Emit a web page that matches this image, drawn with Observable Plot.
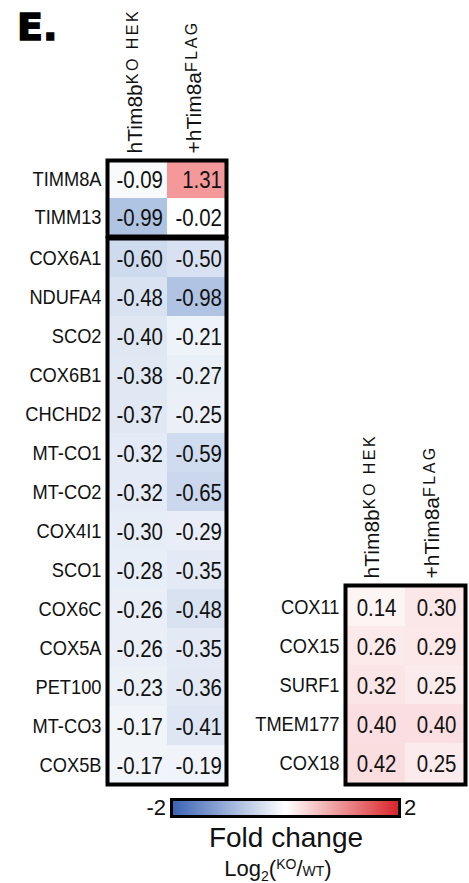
<!DOCTYPE html>
<html><head><meta charset="utf-8">
<script src="https://cdn.jsdelivr.net/npm/d3@7"></script>
<script src="https://cdn.jsdelivr.net/npm/@observablehq/plot@0.6"></script>
<style>
body{margin:0;background:#fff;font-family:"Liberation Sans",Arial,sans-serif;color:#111;}
#wrap{position:relative;width:469px;height:883px;overflow:hidden;}
.abs{position:absolute;}
.abs svg{overflow:visible;}
</style></head><body><div id="wrap"></div>
<script>
// ---- data ----
const columns = ["hTim8b", "+hTim8a"];
const columnSup = ["KO HEK", "FLAG"];
const genesA = ["TIMM8A", "TIMM13"];
const koA = [-0.09, -0.99];
const flagA = [1.31, -0.02];
const genesB = ["COX6A1","NDUFA4","SCO2","COX6B1","CHCHD2","MT-CO1","MT-CO2","COX4I1","SCO1","COX6C","COX5A","PET100","MT-CO3","COX5B"];
const koB = [-0.60,-0.48,-0.40,-0.38,-0.37,-0.32,-0.32,-0.30,-0.28,-0.26,-0.26,-0.23,-0.17,-0.17];
const flagB = [-0.50,-0.98,-0.21,-0.27,-0.25,-0.59,-0.65,-0.29,-0.35,-0.48,-0.35,-0.36,-0.41,-0.19];
const genesC = ["COX11","COX15","SURF1","TMEM177","COX18"];
const koC = [0.14, 0.26, 0.32, 0.40, 0.42];
const flagC = [0.30, 0.29, 0.25, 0.40, 0.25];
const legendTicks = [-2, 2];
const legendTitle = "Fold change";

// ---- styling ----
const FONT = '"Liberation Sans", Arial, sans-serif';
const SQUEEZE = 0.87; // the source figure's text is horizontally condensed
const colorScale = {type: "linear", domain: [-2, -1, 0, 0.5, 1.3, 2],
  range: ["#3c64b6", "#aec2e2", "#ffffff", "#f9d6d9", "#f59a9c", "#d8262a"], clamp: true};
const legendColors = ["#3c64b6", "#ffffff", "#d8262a"];

const wrap = document.getElementById("wrap");
function place(node, left, top) {
  const d = document.createElement("div");
  d.className = "abs"; d.style.left = left + "px"; d.style.top = top + "px";
  d.appendChild(node); wrap.appendChild(d);
  // condense the row labels and cell values (not the rotated headers)
  node.querySelectorAll("text").forEach(t => {
    if (t.getAttribute("data-header")) return;
    const len = t.getComputedTextLength();
    if (len > 0) {
      t.setAttribute("textLength", (len * SQUEEZE).toFixed(2));
      t.setAttribute("lengthAdjust", "spacingAndGlyphs");
    }
  });
  return d;
}

function heatmap({genes, ko, flag, width, height, mLeft, mRight, mTop, mBottom, header, valueDx}) {
  const data = genes.flatMap((g, i) => [
    {gene: g, col: columns[0], v: ko[i]},
    {gene: g, col: columns[1], v: flag[i]}
  ]);
  const marks = [
    Plot.cell(data, {x: "col", y: "gene", fill: "v"}),
    Plot.text(data, {x: "col", y: "gene", text: d => d.v.toFixed(2), textAnchor: "end",
      dx: valueDx, dy: 1, fontSize: 23.5, fill: "#111"}),
    Plot.frame({stroke: "#000", strokeWidth: 4})
  ];
  if (header) marks.push(Plot.text(columns, {x: d => d, frameAnchor: "top", rotate: -90,
    textAnchor: "start", dy: -7, dx: -11, fontSize: 21, fill: "#111"}));
  const svg = Plot.plot({
    width, height, marginLeft: mLeft, marginRight: mRight, marginTop: mTop, marginBottom: mBottom,
    x: {domain: columns, padding: 0, axis: null},
    y: {domain: genes, padding: 0, tickSize: 0, tickPadding: 6, label: null},
    color: colorScale,
    style: {fontFamily: FONT, fontSize: "21px", color: "#111", background: "transparent"},
    marks
  });
  if (header) {
    svg.querySelectorAll("text").forEach(node => {
      const i = columns.indexOf(node.textContent);
      if (i < 0) return;
      node.setAttribute("data-header", "1");
      const sp = document.createElementNS("http://www.w3.org/2000/svg", "tspan");
      sp.setAttribute("dy", "-4");
      sp.setAttribute("font-size", "16px");
      sp.setAttribute("letter-spacing", "2.5px");
      sp.textContent = columnSup[i];
      node.appendChild(sp);
    });
  }
  return svg;
}

place(heatmap({genes: genesA, ko: koA, flag: flagA, width: 240, height: 240,
  mLeft: 107, mRight: 14, mTop: 160, mBottom: 4, header: true, valueDx: 25}), 0, 0);
place(heatmap({genes: genesB, ko: koB, flag: flagB, width: 240, height: 600,
  mLeft: 107, mRight: 14, mTop: 38, mBottom: 16, header: false, valueDx: 25}), 0, 200);
place(heatmap({genes: genesC, ko: koC, flag: flagC, width: 229, height: 400,
  mLeft: 105, mRight: 4, mTop: 185, mBottom: 16, header: true, valueDx: 21}), 240, 400);

// title
const title = document.createElement("div");
title.className = "abs";
Object.assign(title.style, {left: "17px", top: "8px", font: '900 38px "DejaVu Sans", sans-serif',
  lineHeight: "38px", color: "#000", webkitTextStroke: "1.5px #000"});
title.textContent = "E.";
wrap.appendChild(title);

// legend
const bar = document.createElement("div");
bar.className = "abs";
Object.assign(bar.style, {left: "170px", top: "798px", width: "231px", height: "20px",
  boxSizing: "border-box", border: "3px solid #000",
  background: `linear-gradient(to right, ${legendColors.join(",")})`});
wrap.appendChild(bar);
const lo = document.createElement("div");
lo.className = "abs";
Object.assign(lo.style, {left: "126px", top: "797px", width: "40px", textAlign: "right",
  fontSize: "22px", lineHeight: "22px"});
lo.textContent = String(legendTicks[0]);
wrap.appendChild(lo);
const hi = document.createElement("div");
hi.className = "abs";
Object.assign(hi.style, {left: "404px", top: "797px", fontSize: "22px", lineHeight: "22px"});
hi.textContent = String(legendTicks[1]);
wrap.appendChild(hi);
const lt = document.createElement("div");
lt.className = "abs";
Object.assign(lt.style, {left: "186px", top: "824px", width: "200px", textAlign: "center",
  fontSize: "28px", lineHeight: "28px"});
lt.textContent = legendTitle;
wrap.appendChild(lt);
const ls = document.createElement("div");
ls.className = "abs";
Object.assign(ls.style, {left: "178px", top: "858px", width: "200px", textAlign: "center",
  fontSize: "22px", lineHeight: "22px", whiteSpace: "nowrap"});
ls.innerHTML = 'Log<span style="font-size:14px;position:relative;top:5px">2</span>(' +
  '<span style="font-size:14px;position:relative;top:-7px">KO</span>/' +
  '<span style="font-size:14px">WT</span>)';
wrap.appendChild(ls);
</script>
</body></html>
